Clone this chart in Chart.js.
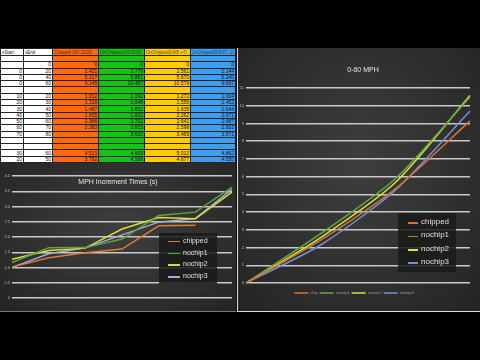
<!DOCTYPE html>
<html>
<head>
<meta charset="utf-8">
<script src="https://cdn.jsdelivr.net/npm/chart.js@4.4.0/dist/chart.umd.min.js"></script>
<style>
  html,body{margin:0;padding:0;background:#000;width:480px;height:360px;overflow:hidden;font-family:"Liberation Sans",Arial,sans-serif;}
  #tbl{position:absolute;left:0;top:48px;width:235px;height:115px;background:#fff;}
  #tbl table{border-collapse:collapse;width:235px;table-layout:fixed;font-size:5px;line-height:5px;}
  #tbl td{border:1px solid #222;padding:0 1px;height:5.3px;text-align:right;overflow:hidden;white-space:nowrap;color:#111;}
  #tbl tr.hdr td{height:6px;text-align:left;font-size:4.5px;}
  .panel{position:absolute;background:radial-gradient(ellipse at 50% 45%,#3e3e3e 0%,#303030 55%,#242424 100%);}
  #leftP{left:0;top:163px;width:236px;height:149px;border-bottom:1px solid #777;box-sizing:border-box;}
  #rightP{left:237px;top:48px;width:243px;height:264px;border-left:1px solid #ddd;border-bottom:1px solid #ddd;box-sizing:border-box;}
  #strip{position:absolute;left:235px;top:48px;width:2px;height:264px;background:#111;}
  .ttl{position:absolute;color:#e8e8e8;white-space:nowrap;text-align:center;}
  .lg{position:absolute;background:rgba(26,26,26,0.85);}
  .lg .it{position:absolute;left:0;color:#e0e0e0;white-space:nowrap;}
  .lg .sw{position:absolute;height:1.6px;}
  canvas{position:absolute;left:0;top:0;}
</style>
</head>
<body>
<div id="tbl"></div>
<div id="strip"></div>
<div id="leftP" class="panel">
  <canvas id="cL" width="236" height="149"></canvas>
  <div class="ttl" style="left:0;width:236px;top:15px;font-size:7px;">MPH Increment Times (s)</div>
  <div id="lgL" class="lg" style="left:159px;top:70px;width:58px;height:51px;"></div>
</div>
<div id="rightP" class="panel">
  <canvas id="cR" width="242" height="263"></canvas>
  <div class="ttl" style="left:0;width:250px;top:18px;font-size:7px;">0-60 MPH</div>
  <div id="lgR" class="lg" style="left:160px;top:165px;width:58px;height:59px;"></div>
</div>
<script>
// ---------- data ----------
const seriesNames = ['chipped','nochip1','nochip2','nochip3'];
const bottomLegendNames = ['chip','nochip1','nochip2','nochip3'];
const tableHeaders = ['vStart','vEnd','Chipped (SF 2019)','UnChipped1(4/2019)','UnChipped2(4/8 +7)','UnChipped3(4/27 -2)'];

// increment times (10 mph steps), x labels = vEnd
const incStart = [10,20,30,40,50,60,70];
const incLabels = ['20','30','40','50','60','70','80'];
const chippedInc = [1.012,1.318,1.487,1.605,2.366,2.383,null];
const nochip1Inc = [1.162,1.648,1.652,1.932,2.702,2.815,3.633];
const nochip2Inc = [1.272,1.556,1.635,2.262,2.641,2.598,3.469];
const nochip3Inc = [1.004,1.452,1.644,2.071,2.487,2.603,3.571];

// 0-60 cumulative times
const speedLabels = ['0','20','40','60'];
const chipped060 = [0,2.421,5.317,9.145];
const nochip1060 = [0,2.779,5.881,10.487];
const nochip2060 = [0,2.561,5.670,10.579];
const nochip3060 = [0,2.144,5.240,9.697];

// extra table rows
const extraStart = [30,20];
const extraEnd = [60,50];
const chippedExtra = [4.513,3.792];
const nochip1Extra = [4.609,4.566];
const nochip2Extra = [5.012,4.677];
const nochip3Extra = [4.862,4.550];

// ---------- styles ----------
const lineColors = ['#e07a2e','#5fa23c','#d8dc3c','#a3a9df'];
const lineColorsR = ['#d8732c','#62a83f','#d9e03e','#6f92d6'];
const colFill = ['#fff','#fff','#ff6a0e','#14c414','#ffcc00','#3d9ef0'];
const hdrText = ['#111','#111','#8a1a00','#064f06','#6a4a00','#0c3f80'];

// ---------- table ----------
(function(){
  const fmt = v => (v===null||v===undefined)?'':(typeof v==='number'&&!Number.isInteger(v)?v.toFixed(3):String(v));
  const rows = [];
  rows.push(null);
  rows.push(['', 0, chipped060[0], nochip1060[0], nochip2060[0], nochip3060[0]]);
  for(let i=1;i<speedLabels.length;i++) rows.push([0, +speedLabels[i], chipped060[i], nochip1060[i], nochip2060[i], nochip3060[i]]);
  rows.push(null);
  for(let i=0;i<incLabels.length;i++) rows.push([incStart[i], +incLabels[i], chippedInc[i], nochip1Inc[i], nochip2Inc[i], nochip3Inc[i]]);
  rows.push(null); rows.push(null);
  for(let i=0;i<extraStart.length;i++) rows.push([extraStart[i], extraEnd[i], chippedExtra[i], nochip1Extra[i], nochip2Extra[i], nochip3Extra[i]]);
  const widths=[23,29,46,46,46,45];
  let h='<table><colgroup>'+widths.map(w=>'<col style="width:'+w+'px">').join('')+'</colgroup>';
  h+='<tr class="hdr">'+tableHeaders.map((t,i)=>'<td style="background:'+colFill[i]+';color:'+hdrText[i]+'">'+t+'</td>').join('')+'</tr>';
  rows.forEach(r=>{
    h+='<tr>';
    for(let c=0;c<6;c++){ h+='<td style="background:'+colFill[c]+'">'+(r?fmt(r[c]):'')+'</td>'; }
    h+='</tr>';
  });
  h+='</table>';
  document.getElementById('tbl').innerHTML=h;
})();

// ---------- inner legends ----------
function buildLegend(id, names, colors, fs, step, top0, swL, swW, txtL){
  const el=document.getElementById(id);
  names.forEach((n,i)=>{
    const y=top0+i*step;
    el.insertAdjacentHTML('beforeend',
      '<div class="sw" style="left:'+swL+'px;width:'+swW+'px;top:'+(y+fs*0.55)+'px;background:'+colors[i]+'"></div>'+
      '<div class="it" style="left:'+txtL+'px;top:'+y+'px;font-size:'+fs+'px;line-height:'+fs+'px">'+n+'</div>');
  });
}
buildLegend('lgL', seriesNames, lineColors, 7, 11.7, 4, 9, 12, 24);
buildLegend('lgR', seriesNames, lineColorsR, 8, 13.3, 5, 10, 10, 23);

// ---------- charts ----------
const gridCol='#c9c9c9';
const tickCol='#b8b8b8';
function mkSets(arrs, cols, tension){
  return arrs.map((a,i)=>({label:seriesNames[i], data:a, borderColor:cols[i], backgroundColor:cols[i],
    borderWidth:1.5, pointRadius:0, tension:tension, spanGaps:false, fill:false}));
}

new Chart(document.getElementById('cL'), {
  type:'line',
  data:{labels:incLabels, datasets:mkSets([chippedInc,nochip1Inc,nochip2Inc,nochip3Inc], lineColors, 0)},
  options:{
    responsive:false, animation:false,
    layout:{padding:{left:0,right:4,top:13,bottom:8}},
    plugins:{legend:{display:false}, title:{display:false}, tooltip:{enabled:false}},
    scales:{
      x:{offset:false, grid:{display:false}, border:{display:false},
         ticks:{color:tickCol, font:{size:4}, padding:1, maxRotation:0},
         afterFit(s){ s.height=6; }},
      y:{min:0, max:4, ticks:{stepSize:0.5, color:tickCol, font:{size:4}, padding:2},
         grid:{color:gridCol, lineWidth:1.5, drawTicks:false}, border:{display:false},
         afterFit(s){ s.width=12; }}
    }
  }
});

new Chart(document.getElementById('cR'), {
  type:'line',
  data:{labels:speedLabels, datasets:mkSets([chipped060,nochip1060,nochip2060,nochip3060], lineColorsR, 0.25)},
  options:{
    responsive:false, animation:false,
    layout:{padding:{left:0,right:10,top:40,bottom:6}},
    plugins:{
      legend:{display:true, position:'bottom',
        labels:{color:'#9a9a9a', font:{size:4}, boxWidth:14, boxHeight:1.5, padding:2,
          generateLabels(chart){
            return chart.data.datasets.map((d,i)=>({text:bottomLegendNames[i], fillStyle:d.borderColor, strokeStyle:d.borderColor, lineWidth:0, fontColor:'#9a9a9a', datasetIndex:i}));
          }}},
      title:{display:false}, tooltip:{enabled:false}},
    scales:{
      x:{offset:false, grid:{display:false}, border:{display:false},
         ticks:{color:tickCol, font:{size:4}, padding:1, maxRotation:0},
         afterFit(s){ s.height=6; }},
      y:{min:0, max:11, ticks:{stepSize:1, color:tickCol, font:{size:4}, padding:2},
         grid:{color:gridCol, lineWidth:1.5, drawTicks:false}, border:{display:false},
         afterFit(s){ s.width=8; }}
    }
  }
});
</script>
</body>
</html>
